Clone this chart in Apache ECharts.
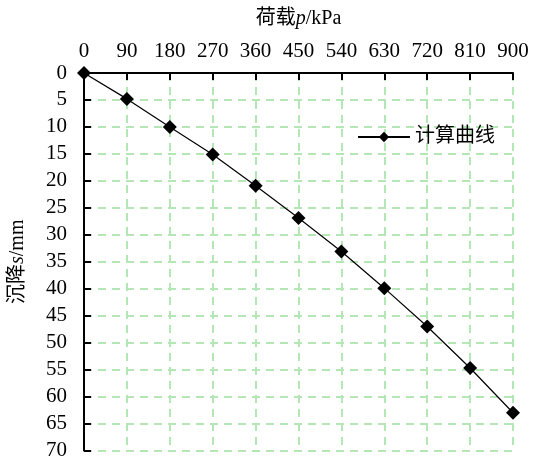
<!DOCTYPE html>
<html><head><meta charset="utf-8">
<script src="https://cdn.jsdelivr.net/npm/echarts@6/dist/echarts.min.js"></script>
<style>html,body{margin:0;padding:0;background:#fff}#c{width:533px;height:461px}</style>
</head><body><div id="c"></div>
<script>
const loads = [0, 90, 180, 270, 360, 450, 540, 630, 720, 810, 900];
const settlement = [0, 4.8, 10.0, 15.1, 20.9, 26.9, 33.1, 39.9, 47.0, 54.7, 63.0];
const seriesName = '计算曲线';
const fontFam = '"Liberation Serif","Times New Roman","Noto Sans CJK SC",serif';
const FS = 21;
const gridLine = {show:true, lineStyle:{color:'#b5e6b5', width:2, type:[8,6]}};
const chart = echarts.init(document.getElementById('c'));
chart.setOption({
  animation:false,
  grid:{left:84, top:73, right:20, bottom:10},
  legend:{show:true, data:[seriesName], left:352, top:122, itemWidth:52, itemHeight:13, itemGap:6,
    textStyle:{fontFamily:fontFam, fontSize:20, color:'#000'}},
  xAxis:{type:'value', position:'top', min:0, max:900, interval:90,
    name:'{a|荷载}{i|p}{a|/kPa}', nameLocation:'middle', nameGap:44,
    nameTextStyle:{rich:{a:{fontFamily:fontFam, fontSize:20, color:'#000'}, i:{fontFamily:fontFam, fontSize:20, fontStyle:'italic', color:'#000'}}},
    axisLine:{show:true, lineStyle:{color:'#000', width:2}},
    axisTick:{show:true, inside:true, length:7, lineStyle:{color:'#000', width:2}},
    axisLabel:{fontFamily:fontFam, fontSize:FS, color:'#000', margin:11},
    splitLine:gridLine},
  yAxis:{type:'value', inverse:true, min:0, max:70, interval:5,
    name:'{a|沉降}{i|s}{a|/mm}', nameLocation:'middle', nameGap:56, nameRotate:90,
    nameTextStyle:{rich:{a:{fontFamily:fontFam, fontSize:20, color:'#000'}, i:{fontFamily:fontFam, fontSize:20, fontStyle:'italic', color:'#000'}}},
    axisLine:{show:true, lineStyle:{color:'#000', width:2}},
    axisTick:{show:true, inside:true, length:7, lineStyle:{color:'#000', width:2}},
    axisLabel:{fontFamily:fontFam, fontSize:FS, color:'#000', margin:17},
    splitLine:gridLine},
  series:[{name:seriesName, type:'line', data:loads.map((x,i)=>[x, settlement[i]]),
    symbol:'diamond', symbolSize:14, itemStyle:{color:'#000'},
    lineStyle:{color:'#000', width:1.2}}]
});
</script></body></html>
